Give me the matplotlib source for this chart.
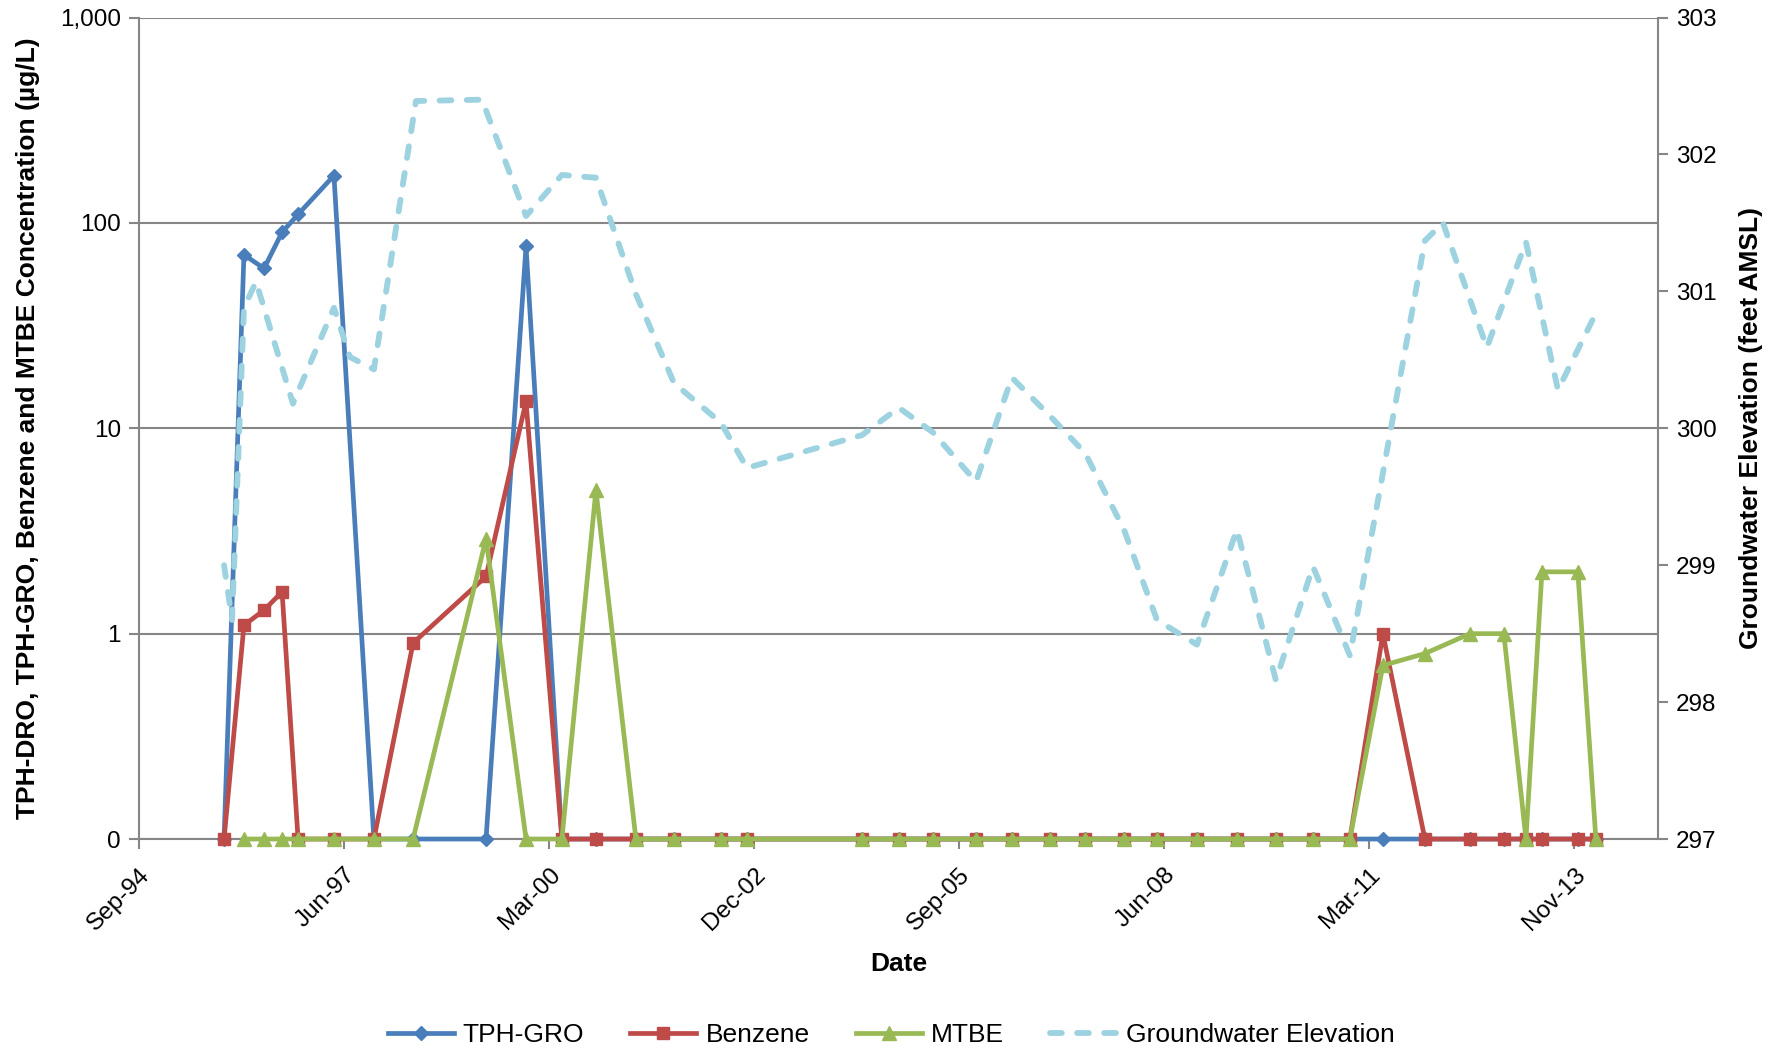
import matplotlib
matplotlib.use('Agg')
import matplotlib.pyplot as plt
import matplotlib.dates as mdates
from matplotlib.ticker import FixedLocator, NullLocator
import numpy as np

plt.rcParams['font.family'] = ['Liberation Sans', 'DejaVu Sans']
plt.rcParams['lines.scale_dashes'] = False

# sampling dates for the concentrations (non-detect plotted as 0.1, labelled "0")
sampleDates = ['1995-11-16', '1996-02-21', '1996-05-29', '1996-08-25', '1996-11-11',
               '1997-05-05', '1997-11-16', '1998-05-26', '1999-05-17', '1999-11-28',
               '2000-05-21', '2000-11-03', '2001-05-17', '2001-11-19', '2002-07-06',
               '2002-11-10', '2004-05-24', '2004-11-20', '2005-05-05', '2005-12-01',
               '2006-05-25', '2006-11-27', '2007-05-17', '2007-11-23', '2008-05-02',
               '2008-11-13', '2009-05-27', '2009-12-03', '2010-06-02', '2010-11-29',
               '2011-05-09', '2011-11-30', '2012-07-07', '2012-12-19', '2013-04-06',
               '2013-06-23', '2013-12-15', '2014-03-13']

tphGro = [0.1, 70, 60, 90, 110, 170, 0.1, 0.1, 0.1, 77,
          0.1, 0.1, 0.1, 0.1, 0.1, 0.1, 0.1, 0.1, 0.1, 0.1,
          0.1, 0.1, 0.1, 0.1, 0.1, 0.1, 0.1, 0.1, 0.1, 0.1,
          0.1, 0.1, 0.1, 0.1, 0.1, 0.1, 0.1, 0.1]

benzene = [0.1, 1.1, 1.3, 1.6, 0.1, 0.1, 0.1, 0.9, 1.9, 13.5,
           0.1, 0.1, 0.1, 0.1, 0.1, 0.1, 0.1, 0.1, 0.1, 0.1,
           0.1, 0.1, 0.1, 0.1, 0.1, 0.1, 0.1, 0.1, 0.1, 0.1,
           1.0, 0.1, 0.1, 0.1, 0.1, 0.1, 0.1, 0.1]

# MTBE starts with the second sampling event
mtbeDates = sampleDates[1:]
mtbe = [0.1, 0.1, 0.1, 0.1, 0.1, 0.1, 0.1, 2.9, 0.1,
        0.1, 5.0, 0.1, 0.1, 0.1, 0.1, 0.1, 0.1, 0.1, 0.1,
        0.1, 0.1, 0.1, 0.1, 0.1, 0.1, 0.1, 0.1, 0.1, 0.1,
        0.7, 0.8, 1.0, 1.0, 0.1, 2.0, 2.0, 0.1]

gwDates = ['1995-11-16', '1995-12-25', '1996-02-21', '1996-04-20', '1996-10-17',
           '1997-05-05', '1997-07-22', '1997-11-16', '1998-06-09', '1999-04-27',
           '1999-11-28', '2000-05-21', '2000-11-03', '2001-05-17', '2001-11-19',
           '2002-07-06', '2002-11-10', '2004-05-24', '2004-11-20', '2005-05-05',
           '2005-12-01', '2006-05-25', '2006-11-27', '2007-05-17', '2007-11-23',
           '2008-05-02', '2008-11-13', '2009-05-27', '2009-12-03', '2010-06-02',
           '2010-11-29', '2011-11-30', '2012-02-26', '2012-09-27', '2013-04-06',
           '2013-09-09', '2014-03-13']
gwElev = [299.00, 298.60, 300.88, 301.07, 300.18,
          300.88, 300.52, 300.43, 302.39, 302.40,
          301.55, 301.85, 301.83, 300.98, 300.33,
          300.04, 299.71, 299.95, 300.15, 299.97,
          299.61, 300.37, 300.09, 299.82, 299.26,
          298.60, 298.42, 299.26, 298.16, 298.99,
          298.34, 301.37, 301.50, 300.59, 301.36,
          300.28, 300.84]

leftTicks = [0.1, 1, 10, 100, 1000]
leftLabels = ['0', '1', '10', '100', '1,000']

def toDates(lst):
    return np.array(lst, dtype='datetime64[D]')

grey = '#868686'
start = np.datetime64('1994-09-27')
xticks = [start + np.timedelta64(1000 * k, 'D') for k in range(8)]

fig = plt.figure(figsize=(17.82, 10.48), dpi=100)
ax = fig.add_axes([0.078, 0.1994, 0.8524, 0.7839])
ax2 = ax.twinx()

l1, = ax.plot(toDates(sampleDates), tphGro, color='#4A7EBB', lw=3.4, marker='D', ms=7,
              clip_on=False, zorder=3, label='TPH-GRO')
l2, = ax.plot(toDates(sampleDates), benzene, color='#BE4B48', lw=3.4, marker='s', ms=8.5,
              clip_on=False, zorder=4, label='Benzene')
l3, = ax.plot(toDates(mtbeDates), mtbe, color='#98B954', lw=3.4, marker='^', ms=9.5,
              clip_on=False, zorder=5, label='MTBE')
l4, = ax2.plot(toDates(gwDates), gwElev, color='#9DD2E0', lw=4.2, dashes=(8.5, 11),
               dash_capstyle='round', solid_joinstyle='round', label='Groundwater Elevation')

ax.set_yscale('log')
ax.set_ylim(0.1, 1000)
ax.yaxis.set_major_locator(FixedLocator(leftTicks))
ax.yaxis.set_minor_locator(NullLocator())
ax.set_yticklabels(leftLabels)
ax.yaxis.grid(True, color=grey, linewidth=1.5)
ax.set_axisbelow(True)

ax2.set_ylim(297, 303)
ax2.set_yticks(range(297, 304))

ax.set_xlim(start, start + np.timedelta64(7410, 'D'))
ax.set_xticks(xticks)
ax.xaxis.set_major_formatter(mdates.DateFormatter('%b-%y'))
for lab in ax.get_xticklabels():
    lab.set_rotation(45)
    lab.set_ha('right')
    lab.set_rotation_mode('anchor')

for a in (ax, ax2):
    for s in a.spines.values():
        s.set_color(grey)
        s.set_linewidth(1.5)
    a.spines['top'].set_visible(False)
ax2.spines['left'].set_visible(False)
ax2.spines['bottom'].set_visible(False)
ax.spines['right'].set_visible(False)

ax.tick_params(axis='y', length=7, width=1.5, color=grey, labelsize=17.5, pad=6)
ax.tick_params(axis='x', length=7, width=1.5, color=grey, labelsize=17.5, pad=11)
ax2.tick_params(axis='y', length=7, width=1.5, color=grey, labelsize=17.5, pad=6)

ax.set_ylabel('TPH-DRO, TPH-GRO, Benzene and MTBE Concentration (µg/L)',
              fontsize=19, fontweight='bold', labelpad=14)
ax2.set_ylabel('Groundwater Elevation (feet AMSL)', fontsize=19, fontweight='bold',
               rotation=90, labelpad=16)
ax.set_xlabel('Date', fontsize=19, fontweight='bold', labelpad=12)

fig.legend(handles=[l1, l2, l3, l4], loc='lower center', bbox_to_anchor=(0.5, -0.022),
           ncol=4, frameon=False, fontsize=19, handlelength=2.5, handletextpad=0.35,
           columnspacing=1.75)

fig.savefig('out.png', dpi=100)
